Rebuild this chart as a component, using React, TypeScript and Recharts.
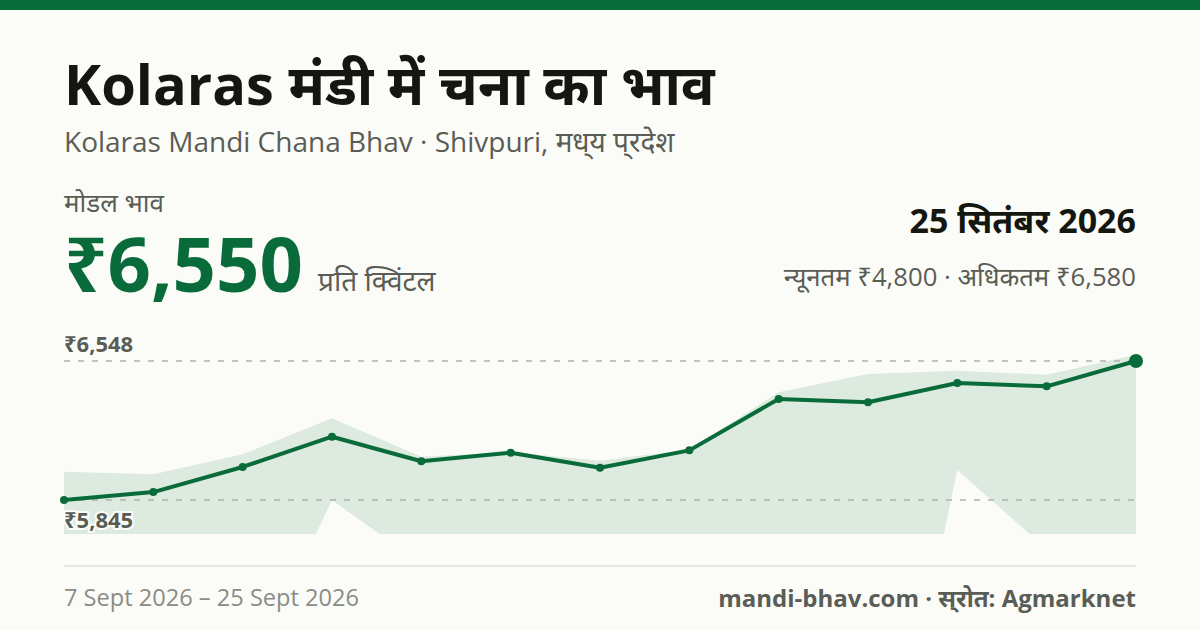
import React from "react";
import { ComposedChart, Area, Line, XAxis, YAxis, ReferenceLine } from "recharts";

const dates = ["7 Sept", "8 Sept", "9 Sept", "10 Sept", "11 Sept", "12 Sept", "14 Sept", "15 Sept", "17 Sept", "19 Sept", "22 Sept", "24 Sept", "25 Sept"];
const modalPrices = [5845, 5885, 6012, 6165, 6041, 6084, 6008, 6096, 6356, 6339, 6437, 6420, 6548];
const maxPrices = [5988, 5975, 6076, 6258, 6064, 6088, 6044, 6100, 6390, 6482, 6499, 6479, 6580];
const minPrices = [5000, 5000, 4889, 5845, 5521, 5000, 5000, 5000, 5000, 3837, 5997, 5597, 4800];
const highLabel = "₹6,548";
const lowLabel = "₹5,845";
const highValue = 6548;
const lowValue = 5845;
const domain: [number, number] = [5673, 6634];

const rows = dates.map((d, i) => ({ date: d, modal: modalPrices[i], band: [minPrices[i], maxPrices[i]] }));

const GREEN = "#0a6b3a";
const BG = "#fbfcf8";
const FONT = "'Open Sans', 'Noto Sans', sans-serif";
const lastIndex = dates.length - 1;
const NO_CONJUNCT: React.CSSProperties = {
  fontFeatureSettings: '"akhn" 0, "rkrf" 0, "rphf" 0, "blwf" 0, "half" 0, "pstf" 0, "vatu" 0, "cjct" 0, "pres" 0, "psts" 0, "blws" 0, "liga" 0',
};

const at = (x: number, y: number, extra: React.CSSProperties): React.CSSProperties => ({
  position: "absolute",
  left: x,
  top: y,
  whiteSpace: "nowrap",
  lineHeight: 1,
  ...extra,
});
const atRight = (right: number, y: number, extra: React.CSSProperties): React.CSSProperties => ({
  position: "absolute",
  right,
  top: y,
  whiteSpace: "nowrap",
  lineHeight: 1,
  ...extra,
});

function Dot(props: any) {
  const { cx, cy, index } = props;
  return <circle cx={cx} cy={cy} r={index === lastIndex ? 7 : 4} fill={GREEN} />;
}

function refLabel(text: string, dy: number) {
  return (props: any) => {
    const vb = props.viewBox;
    return (
      <text
        x={vb.x}
        y={vb.y + dy}
        fill="#5a5d55"
        fontSize={22}
        fontWeight={700}
        fontFamily={FONT}
        stroke={BG}
        strokeWidth={4}
        paintOrder="stroke"
      >
        {text}
      </text>
    );
  };
}

export default function App() {
  return (
    <div style={{ position: "fixed", left: 0, top: 0, width: 1200, height: 630, overflow: "hidden", background: BG, fontFamily: FONT }}>
      <div style={{ position: "absolute", left: 0, top: 0, width: 1200, height: 10, background: GREEN }} />
      <div style={at(64, 55, { fontSize: 56, fontWeight: 700, color: "#14170f" })}>Kolaras मंडी में चना का भाव</div>
      <div style={at(64, 127, { fontSize: 28, color: "#5a5d55" })}>Kolaras Mandi Chana Bhav · Shivpuri, <span style={NO_CONJUNCT}>मध्य प्रदेश</span></div>
      <div style={at(64, 189, { fontSize: 26, color: "#5a5d55" })}>मोडल भाव</div>
      <div style={at(64, 225, { fontSize: 76, fontWeight: 700, color: GREEN })}>₹6,550</div>
      <div style={at(318, 266, { fontSize: 28, color: "#5a5d55" })}>प्रति क्विंटल</div>
      <div style={atRight(64, 203, { fontSize: 34, fontWeight: 700, color: "#14170f" })}>25 सितंबर 2026</div>
      <div style={atRight(64, 264, { fontSize: 25.7, color: "#5a5d55" })}>न्यूनतम ₹4,800 · अधिकतम ₹6,580</div>

      <div style={{ position: "absolute", left: 0, top: 0 }}>
        <ComposedChart width={1200} height={630} data={rows} margin={{ top: 344, bottom: 96, left: 64, right: 64 }}>
          <XAxis dataKey="date" scale="point" hide padding={{ left: 0, right: 0 }} />
          <YAxis yAxisId="band" hide width={0} domain={domain} allowDataOverflow />
          <YAxis yAxisId="main" hide width={0} domain={domain} />
          <Area yAxisId="band" dataKey="band" type="linear" stroke="none" fill={GREEN} fillOpacity={0.12} isAnimationActive={false} dot={false} activeDot={false} />
          <ReferenceLine yAxisId="main" y={highValue} stroke="#b0b3ab" strokeWidth={1.5} strokeDasharray="6 8" label={refLabel(highLabel, -9)} />
          <ReferenceLine yAxisId="main" y={lowValue} stroke="#b0b3ab" strokeWidth={1.5} strokeDasharray="6 8" label={refLabel(lowLabel, 28)} />
          <Line yAxisId="main" dataKey="modal" type="linear" stroke={GREEN} strokeWidth={4} strokeLinejoin="round" strokeLinecap="round" dot={<Dot />} activeDot={false} isAnimationActive={false} />
        </ComposedChart>
      </div>

      <div style={{ position: "absolute", left: 64, top: 565, width: 1072, height: 2, background: "#e6e8e1" }} />
      <div style={at(64, 586, { fontSize: 23.6, color: "#8a8d85" })}>7 Sept 2026 – 25 Sept 2026</div>
      <div style={atRight(64, 586, { fontSize: 24, fontWeight: 700, color: "#5a5d55" })}>mandi-bhav.com · <span style={NO_CONJUNCT}>स्रोत</span>: Agmarknet</div>
    </div>
  );
}
